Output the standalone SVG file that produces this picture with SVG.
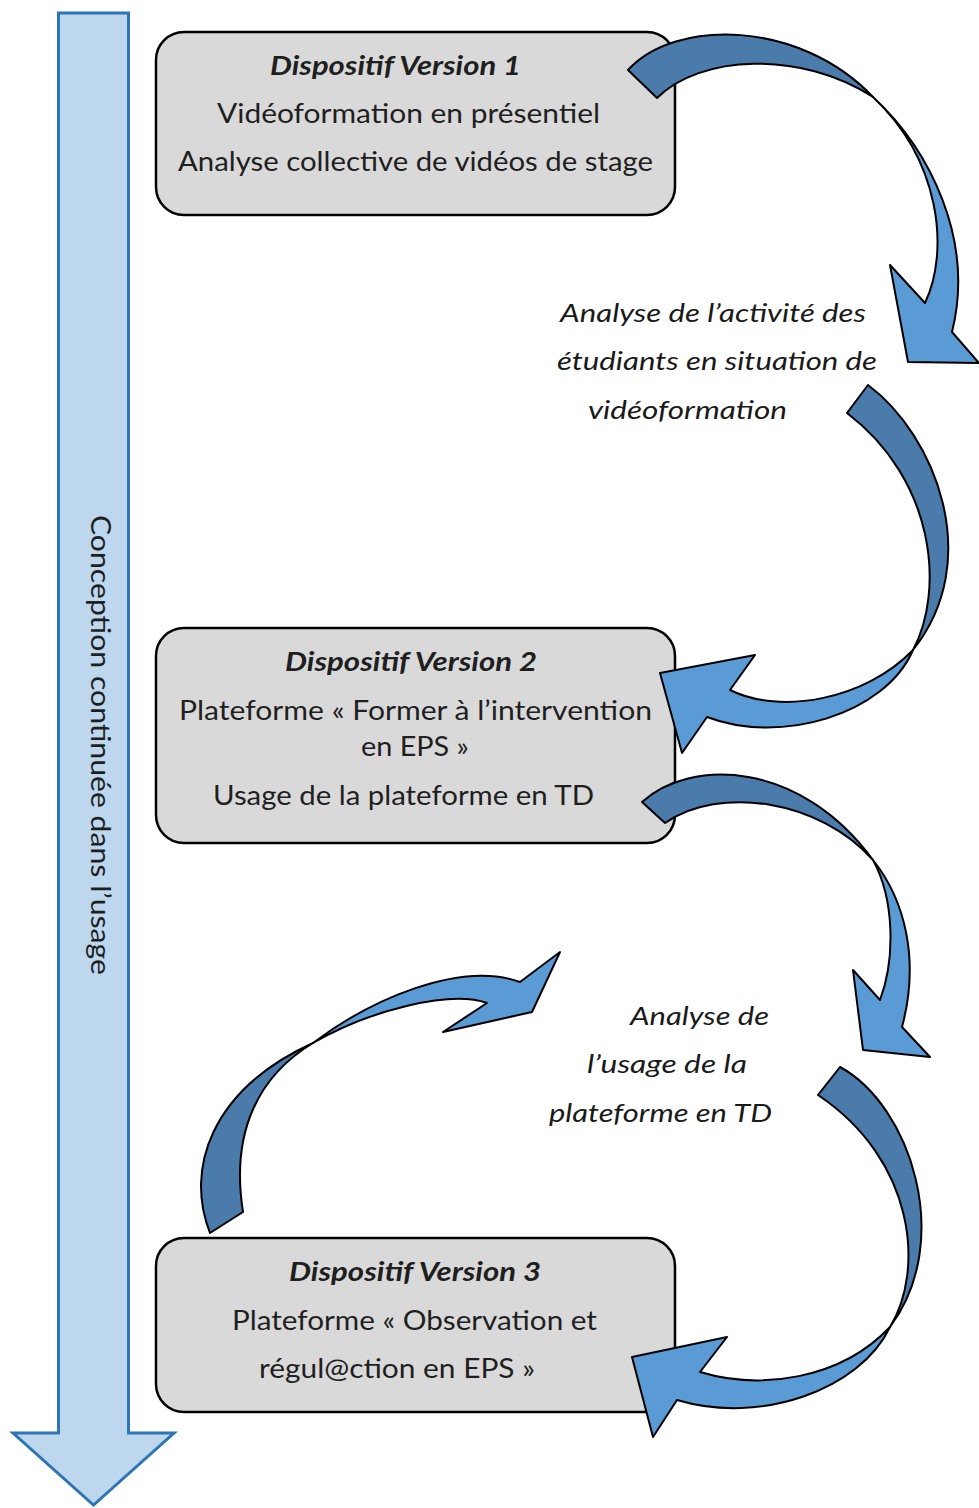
<svg xmlns="http://www.w3.org/2000/svg" width="979" height="1508" viewBox="0 0 979 1508">
<style>
.box{fill:#d9d9d9;stroke:#000;stroke-width:2.5}
.t{font-family:Lato,"Open Sans","Liberation Sans",sans-serif;font-size:26px;fill:#1f1f1f}
.b{font-weight:bold;font-style:italic}
.i{font-style:italic;fill:#1a1a1a}
.dk{fill:#4a7bab;stroke:#000;stroke-width:2;stroke-linejoin:round}
.lt{fill:#5b9bd5;stroke:#000;stroke-width:2;stroke-linejoin:round}
</style>
<rect width="979" height="1508" fill="#fff"/>
<g id="timeline">
<path d="M58.5,13 L128.5,13 L128.5,1433 L174,1433 L93.5,1505 L13,1433 L58.5,1433 Z" fill="#bdd7ee" stroke="#2e75b6" stroke-width="3"/>
<text class="t" transform="translate(91,515) rotate(90)" x="0" y="0" textLength="460" lengthAdjust="spacingAndGlyphs">Conception continuée dans l’usage</text>
</g>
<g id="v1">
<rect class="box" x="156" y="32" width="519" height="183" rx="28"/>
<text class="t b" x="270" y="75" textLength="251" lengthAdjust="spacingAndGlyphs">Dispositif Version 1</text>
<text class="t" x="217" y="123" textLength="383" lengthAdjust="spacingAndGlyphs">Vidéoformation en présentiel</text>
<text class="t" x="178" y="171" textLength="475" lengthAdjust="spacingAndGlyphs">Analyse collective de vidéos de stage</text>
</g>
<g id="v2">
<rect class="box" x="156" y="628" width="519" height="215" rx="28"/>
<text class="t b" x="285" y="671" textLength="252" lengthAdjust="spacingAndGlyphs">Dispositif Version 2</text>
<text class="t" x="179" y="720" textLength="473" lengthAdjust="spacingAndGlyphs">Plateforme « Former à l’intervention</text>
<text class="t" x="361" y="756" textLength="108" lengthAdjust="spacingAndGlyphs">en EPS »</text>
<text class="t" x="213" y="805" textLength="381" lengthAdjust="spacingAndGlyphs">Usage de la plateforme en TD</text>
</g>
<g id="v3">
<rect class="box" x="156" y="1238" width="519" height="174" rx="28"/>
<text class="t b" x="289" y="1281" textLength="252" lengthAdjust="spacingAndGlyphs">Dispositif Version 3</text>
<text class="t" x="232" y="1330" textLength="365" lengthAdjust="spacingAndGlyphs">Plateforme « Observation et</text>
<text class="t" x="259" y="1378" textLength="276" lengthAdjust="spacingAndGlyphs">régul@ction en EPS »</text>
</g>
<g id="label1">
<text class="t i" x="560" y="322" textLength="306" lengthAdjust="spacingAndGlyphs">Analyse de l’activité des</text>
<text class="t i" x="557" y="370" textLength="320" lengthAdjust="spacingAndGlyphs">étudiants en situation de</text>
<text class="t i" x="588" y="419" textLength="199" lengthAdjust="spacingAndGlyphs">vidéoformation</text>
</g>
<g id="label2">
<text class="t i" x="630" y="1025" textLength="139" lengthAdjust="spacingAndGlyphs">Analyse de</text>
<text class="t i" x="587" y="1073" textLength="160" lengthAdjust="spacingAndGlyphs">l’usage de la</text>
<text class="t i" x="549" y="1122" textLength="223" lengthAdjust="spacingAndGlyphs">plateforme en TD</text>
</g>
<g id="connectors">
<g id="arrow1">
<path class="dk" d="M628,70 C675,18 800,20 873,97 C800,50 700,55 657,98 Z"/>
<path class="lt" d="M873,97 C930,150 975,240 952,332 L979,363 L908,362 L890,265 L925,303 C950,250 940,160 873,97 Z"/>
</g>
<g id="arrow2">
<path class="dk" d="M868,385 C935,435 985,560 913,650 C945,590 935,480 847,413 Z"/>
<path class="lt" d="M913,650 C885,715 780,745 707,717 L682,753 L660,673 L755,655 L730,690 C780,715 865,700 913,650 Z"/>
</g>
<g id="arrow3">
<path class="dk" d="M642,802 C690,758 800,760 873,860 C820,800 720,785 665,823 Z"/>
<path class="lt" d="M873,860 C905,900 920,960 902,1027 L930,1057 L863,1050 L853,970 L880,1000 C895,960 895,900 873,860 Z"/>
</g>
<g id="arrow4">
<path class="dk" d="M840,1067 C910,1105 955,1240 890,1327 C925,1270 915,1160 818,1095 Z"/>
<path class="lt" d="M890,1327 C860,1390 760,1425 677,1400 L653,1437 L632,1357 L727,1337 L700,1372 C760,1390 840,1380 890,1327 Z"/>
</g>
<g id="arrow5">
<path class="dk" d="M210,1233 C185,1170 210,1090 313,1043 C260,1075 230,1130 243,1212 Z"/>
<path class="lt" d="M313,1043 C370,1000 460,960 520,982 L560,952 L532,1012 L443,1032 L487,1003 C450,990 370,1010 313,1043 Z"/>
</g>
</g>
</svg>
